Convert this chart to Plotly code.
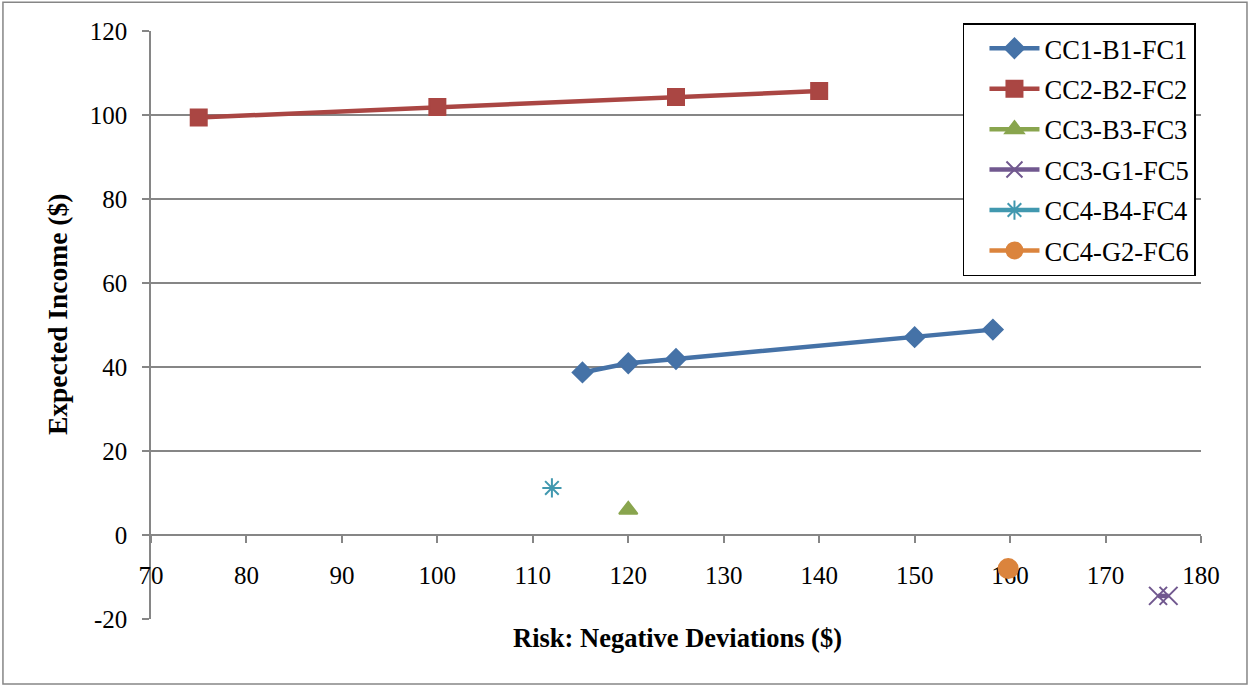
import plotly.graph_objects as go

names = ["CC1-B1-FC1", "CC2-B2-FC2", "CC3-B3-FC3", "CC3-G1-FC5", "CC4-B4-FC4", "CC4-G2-FC6"]
x_cc1 = [115.2, 120.0, 125.0, 150.0, 158.2]
y_cc1 = [38.7, 40.9, 41.9, 47.1, 48.9]
x_cc2 = [75.0, 100.0, 125.0, 140.0]
y_cc2 = [99.4, 101.9, 104.3, 105.7]
x_cc3b = [120.0]
y_cc3b = [6.0]
x_cc3g = [175.5, 176.6]
y_cc3g = [-14.5, -14.5]
x_cc4b = [112.0]
y_cc4b = [11.2]
x_cc4g = [159.8]
y_cc4g = [-8.0]

x_ticks = [70, 80, 90, 100, 110, 120, 130, 140, 150, 160, 170, 180]
y_ticks = [-20, 0, 20, 40, 60, 80, 100, 120]
y_tick_text = ["-20", "0", "20", "40", "60", "80", "100", "120"]

colors = ["#4572A7", "#AA4643", "#89A54E", "#71588F", "#4198AF", "#DB843D"]
symbols = ["diamond", "square", "triangle-up", "x-thin-open", "asterisk-open", "circle"]
sizes = [15, 16, 16, 18, 16, 19]
xs = [x_cc1, x_cc2, x_cc3b, x_cc3g, x_cc4b, x_cc4g]
ys = [y_cc1, y_cc2, y_cc3b, y_cc3g, y_cc4b, y_cc4g]

FONT = "Liberation Serif"
GRAY = "#868686"
TICK_SIZE = 25
LEG_SIZE = 26.5
TITLE_SIZE = 26.5

fig = go.Figure()
for i in range(len(names)):
    fig.add_trace(go.Scatter(
        x=xs[i], y=ys[i], name=names[i], mode="lines+markers",
        legendgroup=names[i],
        line=dict(color=colors[i], width=4.5),
        marker=dict(symbol=symbols[i], size=sizes[i], color=colors[i],
                    line=dict(color=colors[i], width=2)),
    ))

fig.update_layout(
    width=1250, height=686,
    margin=dict(l=151, r=49, t=31, b=67),
    paper_bgcolor="white", plot_bgcolor="white",
    font=dict(family=FONT, size=TICK_SIZE, color="black"),
    showlegend=True,
    legend=dict(x=0.7733, y=1.0136, xanchor="left", yanchor="top",
                bordercolor="black", borderwidth=1.5, bgcolor="white",
                traceorder="grouped", tracegroupgap=3, itemwidth=50,
                indentation=20,
                font=dict(family=FONT, size=LEG_SIZE, color="black")),
    xaxis=dict(range=[70, 180], tickvals=x_ticks, anchor="free", position=20 / 140,
               showline=True, linecolor=GRAY, linewidth=1.5,
               ticks="outside", ticklen=7, tickcolor=GRAY, tickwidth=1.5,
               ticklabelstandoff=11,
               showgrid=False, zeroline=False, layer="below traces",
               tickfont=dict(family=FONT, size=TICK_SIZE, color="black")),
    yaxis=dict(range=[-20, 120], tickvals=y_ticks, ticktext=y_tick_text,
               showline=True, linecolor=GRAY, linewidth=1.5,
               ticks="outside", ticklen=7, tickcolor=GRAY, tickwidth=1.5,
               ticklabelstandoff=10,
               showgrid=True, gridcolor=GRAY, gridwidth=1.5, zeroline=False,
               layer="below traces",
               tickfont=dict(family=FONT, size=TICK_SIZE, color="black")),
    annotations=[
        dict(text="<b>Risk: Negative Deviations ($)</b>", x=0.501, y=-0.0323,
             xref="paper", yref="paper", showarrow=False, xanchor="center", yanchor="middle",
             font=dict(family=FONT, size=TITLE_SIZE, color="black")),
        dict(text="<b>Expected Income ($)</b>", x=-0.0895, y=0.517, textangle=-90,
             xref="paper", yref="paper", showarrow=False, xanchor="center", yanchor="middle",
             font=dict(family=FONT, size=27.5, color="black")),
    ],
    shapes=[
        dict(type="rect", xref="paper", yref="paper", x0=-0.141, x1=1.0438, y0=-0.1105, y1=1.049,
             line=dict(color=GRAY, width=1.5), fillcolor="rgba(0,0,0,0)", layer="below"),
    ],
)

fig.write_html("out.html")
